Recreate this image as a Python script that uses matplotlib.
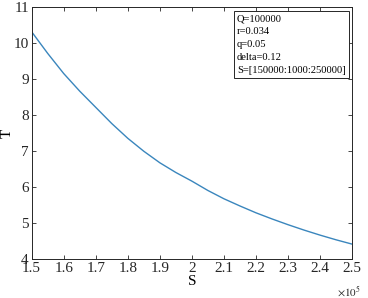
import numpy as np
import matplotlib
matplotlib.use("Agg")
import matplotlib.pyplot as plt

# S in units of 1e5, T
s_vals = [1.50, 1.55, 1.60, 1.65, 1.70, 1.75, 1.80, 1.85, 1.90, 1.95, 2.00,
          2.05, 2.10, 2.15, 2.20, 2.25, 2.30, 2.35, 2.40, 2.45, 2.50]
t_vals = [10.32, 9.72, 9.16, 8.67, 8.22, 7.77, 7.36, 7.00, 6.68, 6.41, 6.17,
          5.91, 5.68, 5.48, 5.29, 5.12, 4.96, 4.81, 4.67, 4.54, 4.42]
x_ticks = [1.5, 1.6, 1.7, 1.8, 1.9, 2.0, 2.1, 2.2, 2.3, 2.4, 2.5]
x_labels = ["1.5", "1.6", "1.7", "1.8", "1.9", "2", "2.1", "2.2", "2.3", "2.4", "2.5"]
y_ticks = [4, 5, 6, 7, 8, 9, 10, 11]
note_lines = ["Q=100000", "r=0.034", "q=0.05", "delta=0.12", "S=[150000:1000:250000]"]

plt.rcParams["font.family"] = ["Liberation Serif", "DejaVu Serif"]
plt.rcParams["mathtext.fontset"] = "stix"

fig = plt.figure(figsize=(3.68, 2.98), dpi=100)
ax = fig.add_axes([0.086, 0.130, 0.871, 0.8455])

ax.plot(np.array(s_vals) * 1e5, t_vals, color="#3a86bd", lw=1.0)

ax.set_xlim(1.5e5, 2.5e5)
ax.set_ylim(4, 11)
ax.set_xticks(np.array(x_ticks) * 1e5)
ax.set_xticklabels(x_labels)
ax.set_yticks(y_ticks)
ax.tick_params(direction="in", length=3, width=0.6, top=True, right=True,
               labelsize=11, colors="#262626", pad=2)
for sp in ax.spines.values():
    sp.set_color("#262626")
    sp.set_linewidth(0.7)

ax.set_xlabel("S", fontsize=11, labelpad=0)
ax.set_ylabel("T", fontsize=11)
ax.yaxis.set_label_coords(-0.055, 0.5)
ax.text(1.027, -0.128, r"$\times10^5$", transform=ax.transAxes, ha="right",
        va="center", fontsize=8, color="#262626")

ax.text(0.641, 0.973, "\n".join(note_lines), transform=ax.transAxes,
        ha="left", va="top", fontsize=7.6, linespacing=1.55,
        bbox=dict(boxstyle="square,pad=0.3", fc="white", ec="#262626", lw=0.7))

fig.savefig("out.png", dpi=100)
plt.close(fig)
